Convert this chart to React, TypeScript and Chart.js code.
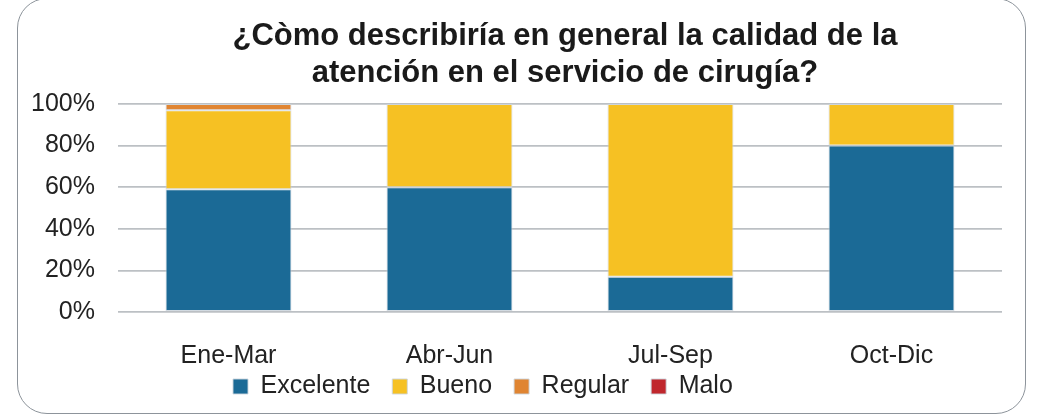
import React, { useEffect, useRef } from "react";
import { Chart, registerables } from "chart.js";

Chart.register(...registerables);

const categories = ["Ene-Mar", "Abr-Jun", "Jul-Sep", "Oct-Dic"];
const excelente = [59, 60, 17, 80];
const bueno = [38, 40, 83, 20];
const regular = [3, 0, 0, 0];
const malo = [0, 0, 0, 0];
const yTicks = [0, 20, 40, 60, 80, 100];
const titleLines = [
  "¿Còmo describiría en general la calidad de la",
  "atención en el servicio de cirugía?",
];

const FONT = "'Liberation Sans', Arial, Helvetica, sans-serif";

const placeBlocks = {
  id: "placeBlocks",
  afterLayout(chart: any) {
    const lg = chart.legend;
    if (lg) {
      const w = lg.width;
      const h = lg.height;
      lg.left = 233 - 22;
      lg.right = lg.left + w;
      lg.top = 352;
      lg.bottom = lg.top + h;
    }
    const tb = chart.titleBlock;
    if (tb) {
      tb.left += 5;
      tb.right += 5;
    }
  },
};

export default function App() {
  const ref = useRef<HTMLCanvasElement | null>(null);

  useEffect(() => {
    if (!ref.current) return;
    const chart = new Chart(ref.current, {
      type: "bar",
      data: {
        labels: categories,
        datasets: [
          { label: "Excelente", data: excelente, backgroundColor: "#1b6a96" },
          { label: "Bueno", data: bueno, backgroundColor: "#f6c123" },
          { label: "Regular", data: regular, backgroundColor: "#e08532" },
          { label: "Malo", data: malo, backgroundColor: "#c0272d" },
        ].map((d) => ({
          ...d,
          borderColor: "rgba(205,214,222,0.9)",
          borderWidth: 1,
          borderSkipped: false,
          categoryPercentage: 1,
          barPercentage: 0.57,
        })),
      },
      options: {
        animation: false,
        responsive: false,
        maintainAspectRatio: false,
        layout: { padding: { left: 0, right: 45, top: 18, bottom: -17 } },
        plugins: {
          title: {
            display: true,
            text: titleLines,
            fullSize: false,
            color: "#1a1a1a",
            font: { family: FONT, size: 31, weight: "bold", lineHeight: 37 / 31 },
            padding: { top: 0, bottom: 12 },
          },
          legend: {
            display: true,
            position: "bottom",
            align: "start",
            fullSize: false,
            labels: {
              boxWidth: 15,
              boxHeight: 15,
              padding: 22,
              color: "#222222",
              font: { family: FONT, size: 25 },
            },
          },
          tooltip: { enabled: false },
        },
        scales: {
          x: {
            stacked: true,
            grid: { display: false, drawTicks: false },
            border: { display: false },
            ticks: {
              color: "#222222",
              padding: 29,
              font: { family: FONT, size: 25 },
            },
            afterFit: (s: any) => {
              s.height = 63;
            },
          },
          y: {
            stacked: true,
            min: 0,
            max: 100,
            afterBuildTicks: (s: any) => {
              s.ticks = yTicks.map((v) => ({ value: v }));
            },
            grid: { color: "#bcc0c4", lineWidth: 1.8, drawTicks: false },
            border: { display: false },
            ticks: {
              color: "#222222",
              padding: 23,
              font: { family: FONT, size: 25 },
              callback: (v: any) => v + "%",
            },
            afterFit: (s: any) => {
              s.width = 118;
            },
          },
        },
      },
      plugins: [placeBlocks],
    } as any);
    return () => chart.destroy();
  }, []);

  return (
    <div style={{ position: "absolute", left: 0, top: 0, width: 1047, height: 415, background: "#fff", overflow: "hidden" }}>
      <div
        style={{
          position: "absolute",
          left: 17,
          top: -2,
          width: 1009,
          height: 416,
          boxSizing: "border-box",
          border: "1.5px solid #8d949b",
          borderRadius: 30,
        }}
      />
      <canvas ref={ref} width={1047} height={415} style={{ position: "absolute", left: 0, top: 0, width: 1047, height: 415 }} />
    </div>
  );
}
